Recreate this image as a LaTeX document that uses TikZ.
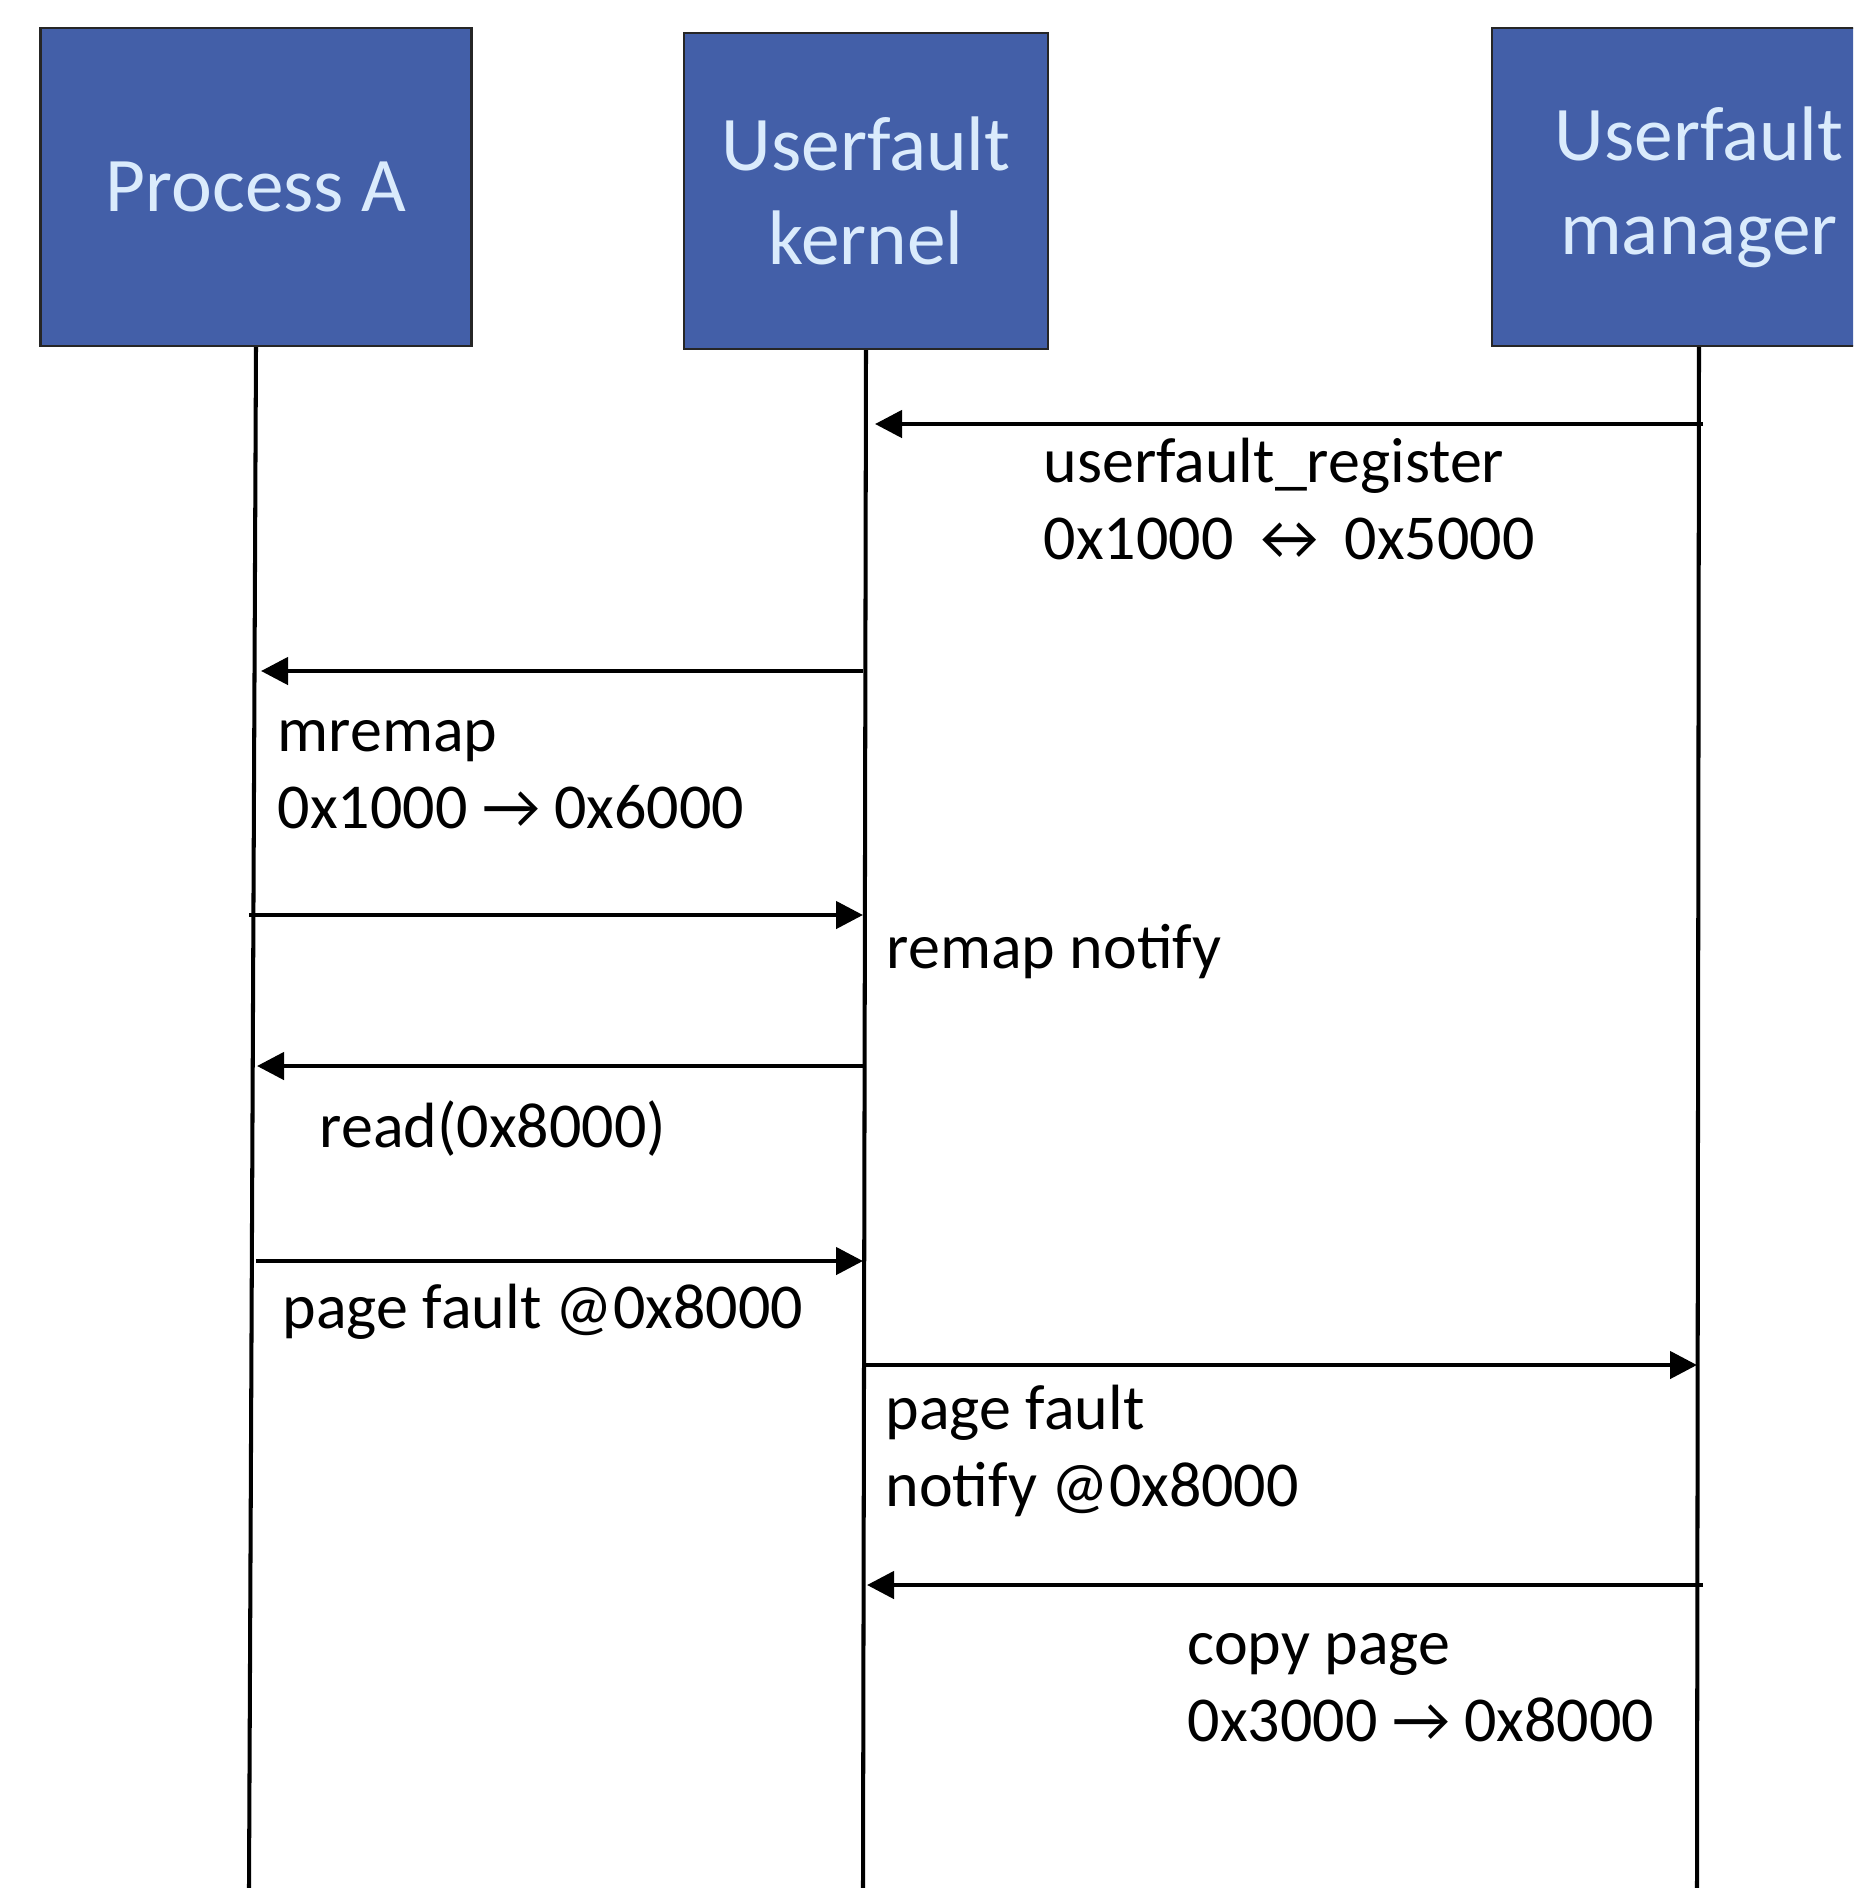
\documentclass[tikz,border=0pt]{standalone}
\usepackage{fontspec}
\setmainfont{Carlito}
\usetikzlibrary{arrows.meta}
\definecolor{boxblue}{RGB}{67,95,168}
\definecolor{boxtext}{RGB}{218,235,252}
\tikzset{
  actor/.style={draw=black!85, line width=0.6pt, fill=boxblue, text=boxtext,
    font=\fontsize{22}{26.7}\selectfont, align=center, inner sep=0pt},
  lifeline/.style={line width=1.15pt},
  msg/.style={line width=1.3pt, -{Triangle[length=2.7mm,width=2.7mm]}},
  msglabel/.style={anchor=base west, align=left, inner sep=0pt,
    font=\fontsize{18.2}{21.9}\selectfont},
}
\begin{document}
\begin{tikzpicture}[x=0.1mm,y=-0.1mm]
\useasboundingbox (0,0) rectangle (1853,1888);
\clip (0,0) rectangle (1853,1888);

% participants
\node[actor, minimum width=43.1mm, minimum height=31.8mm] (procA) at (256,187) {Process A};
\node[actor, minimum width=36.4mm, minimum height=31.6mm] (kernel) at (866,191) {Userfault\\kernel};
\node[actor, minimum width=41.4mm, minimum height=31.8mm] (manager) at (1699,187) {Userfault\\manager};

% lifelines
\coordinate (procA-end) at (249,1888);
\coordinate (kernel-end) at (863,1888);
\coordinate (manager-end) at (1697,1888);
\draw[lifeline] (procA.south) -- (procA-end);
\draw[lifeline] (kernel.south) -- (kernel-end);
\draw[lifeline] (manager.south) -- (manager-end);

% messages
\coordinate (reg-a) at (1703,424);  \coordinate (reg-b) at (875,424);
\coordinate (remap-a) at (863,671); \coordinate (remap-b) at (261,671);
\coordinate (note-a) at (249,915);  \coordinate (note-b) at (863,915);
\coordinate (read-a) at (863,1066); \coordinate (read-b) at (257,1066);
\coordinate (pf-a) at (256,1261);   \coordinate (pf-b) at (863,1261);
\coordinate (pfn-a) at (866,1365);  \coordinate (pfn-b) at (1697,1365);
\coordinate (copy-a) at (1703,1585); \coordinate (copy-b) at (867,1585);

\draw[msg] (reg-a) -- (reg-b);
\draw[msg] (remap-a) -- (remap-b);
\draw[msg] (note-a) -- (note-b);
\draw[msg] (read-a) -- (read-b);
\draw[msg] (pf-a) -- (pf-b);
\draw[msg] (pfn-a) -- (pfn-b);
\draw[msg] (copy-a) -- (copy-b);

% labels (base = last line)
\node[msglabel] (reg-label) at (1043,559) {userfault\_register\\0x1000 ↔ 0x5000};
\node[msglabel] (remap-label) at (277,828) {mremap\\0x1000 → 0x6000};
\node[msglabel] (note-label) at (886,968) {remap notify};
\node[msglabel] (read-label) at (319,1147) {read(0x8000)};
\node[msglabel] (pf-label) at (282,1328) {page fault @0x8000};
\node[msglabel] (pfn-label) at (885,1506) {page fault\\notify @0x8000};
\node[msglabel] (copy-label) at (1187,1741) {copy page\\0x3000 → 0x8000};
\end{tikzpicture}
\end{document}
